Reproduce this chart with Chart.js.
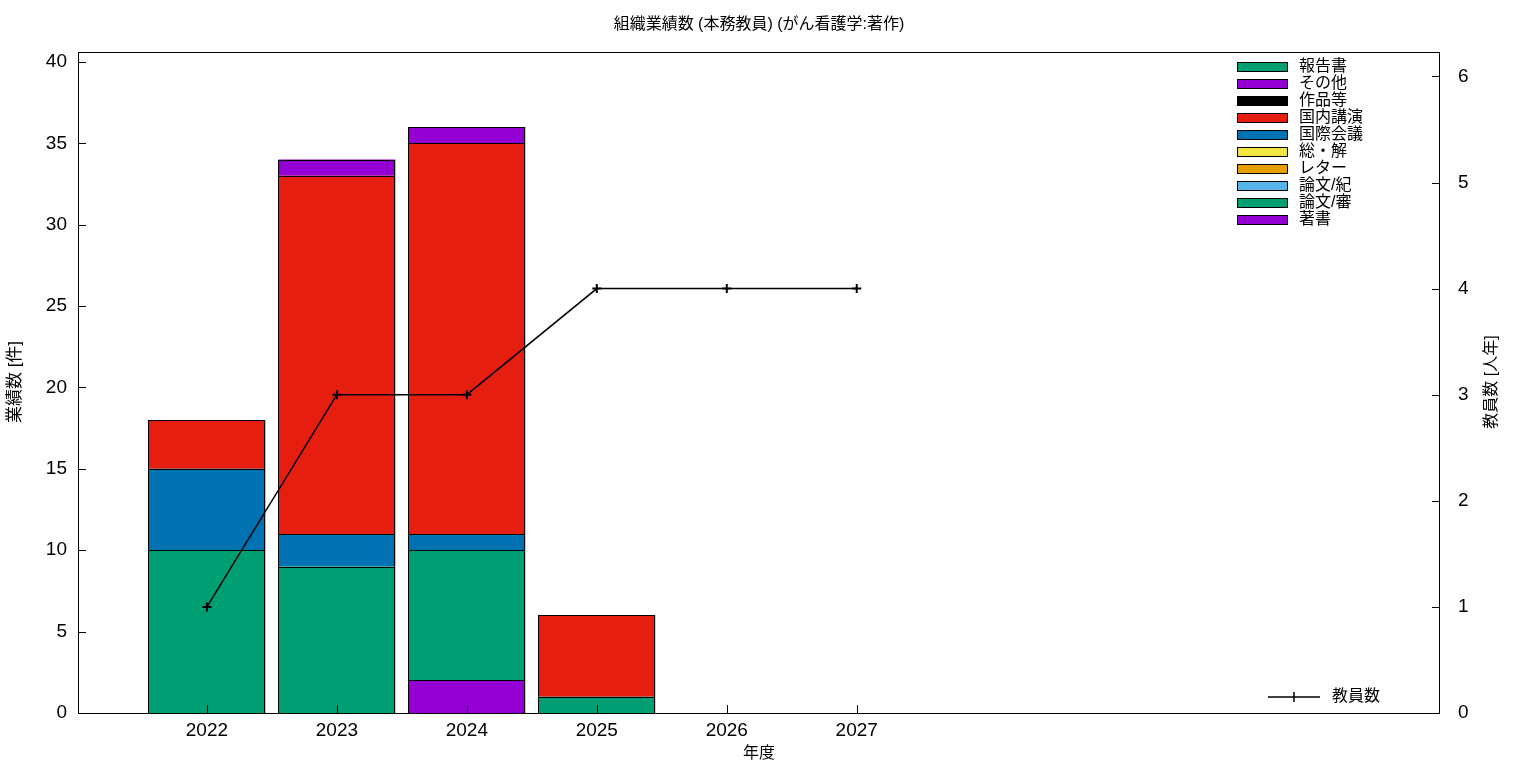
<!DOCTYPE html>
<html>
<head>
<meta charset="utf-8">
<script src="https://cdn.jsdelivr.net/npm/chart.js@4/dist/chart.umd.min.js"></script>
<style>
    body { margin: 0; background: #fff; }
    #wrap { width: 1536px; height: 768px; }
</style>
</head>
<body>
<div id="wrap"><canvas id="myChart" width="1536" height="768"></canvas></div>
<script>
// data
const years = [2022, 2023, 2024, 2025, 2026, 2027];
const staff = [1, 3, 3, 4, 4, 4];

// stacking order, bottom first
const seriesNames = ['著書', '論文/審', '論文/紀', 'レター', '総・解', '国際会議', '国内講演', '作品等', 'その他', '報告書'];
const seriesColors = ['#9400d3', '#009e73', '#56b4e9', '#e69f00', '#f0e442', '#0072b2', '#e51e10', '#000000', '#9400d3', '#009e73'];
const chosho   = [0, 0, 2, 0, 0, 0];
const ronbunS  = [10, 9, 8, 1, 0, 0];
const ronbunK  = [0, 0, 0, 0, 0, 0];
const letter   = [0, 0, 0, 0, 0, 0];
const soukai   = [0, 0, 0, 0, 0, 0];
const kokusai  = [5, 2, 1, 0, 0, 0];
const kokunai  = [3, 22, 24, 5, 0, 0];
const sakuhin  = [0, 0, 0, 0, 0, 0];
const sonota   = [0, 1, 1, 0, 0, 0];
const houkoku  = [0, 0, 0, 0, 0, 0];
const seriesValues = [chosho, ronbunS, ronbunK, letter, soukai, kokusai, kokunai, sakuhin, sonota, houkoku];

const yTicks = [0, 5, 10, 15, 20, 25, 30, 35, 40];
const y2Ticks = [0, 1, 2, 3, 4, 5, 6];

const FONT = '"Liberation Sans", "Noto Sans CJK JP", sans-serif';

const barSets = seriesNames.map((name, i) => ({
    type: 'bar',
    label: name,
    data: years.map((yr, j) => ({ x: yr, y: seriesValues[i][j] === 0 ? null : seriesValues[i][j] })),
    backgroundColor: seriesColors[i],
    borderWidth: 0,
    stack: 'works',
    yAxisID: 'y',
    order: 1,
    barPercentage: 0.9,
    categoryPercentage: 1,
}));

const lineSet = {
    type: 'line',
    label: '教員数',
    data: years.map((yr, j) => ({ x: yr, y: staff[j] })),
    borderColor: '#000',
    borderWidth: 1.5,
    pointStyle: 'cross',
    pointRadius: 4.5,
    pointBorderWidth: 2,
    pointBorderColor: '#000',
    yAxisID: 'y2',
    order: 0,
    tension: 0,
};

// frame, inward ticks, bar outlines, titles and legends like gnuplot
const gnuplotLook = {
    id: 'gnuplotLook',
    beforeDraw(chart) {
        const ctx = chart.ctx;
        ctx.save();
        ctx.fillStyle = '#fff';
        ctx.fillRect(0, 0, chart.width, chart.height);
        ctx.restore();
    },
    afterDatasetDraw(chart, args) {
        if (args.meta.type !== 'bar') return;
        const ctx = chart.ctx;
        ctx.save();
        ctx.strokeStyle = '#000';
        ctx.lineWidth = 1;
        args.meta.data.forEach((bar, j) => {
            if (seriesValues[args.index][j] === 0) return;
            const p = bar.getProps(['x', 'y', 'base', 'width'], true);
            const l = Math.round(p.x - p.width / 2) + 0.5;
            const r = Math.round(p.x + p.width / 2) - 0.5;
            const t = Math.round(p.y) + 0.5;
            const b = Math.round(p.base) + 0.5;
            ctx.strokeRect(l, t, r - l, b - t);
        });
        ctx.restore();
    },
    afterDraw(chart) {
        const ctx = chart.ctx;
        const a = chart.chartArea;
        const sx = chart.scales.x, sy = chart.scales.y, sy2 = chart.scales.y2;
        ctx.save();
        ctx.strokeStyle = '#000';
        ctx.lineWidth = 1;
        ctx.strokeRect(a.left + 0.5, a.top + 0.5, a.right - a.left - 1, a.bottom - a.top);

        ctx.beginPath();
        yTicks.forEach(v => {
            const p = Math.round(sy.getPixelForValue(v)) + 0.5;
            ctx.moveTo(a.left, p); ctx.lineTo(a.left + 8, p);
        });
        y2Ticks.forEach(v => {
            const p = Math.round(sy2.getPixelForValue(v)) + 0.5;
            ctx.moveTo(a.right, p); ctx.lineTo(a.right - 8, p);
        });
        years.forEach(v => {
            const p = Math.round(sx.getPixelForValue(v)) + 0.5;
            ctx.moveTo(p, a.bottom); ctx.lineTo(p, a.bottom - 8);
        });
        ctx.stroke();

        ctx.fillStyle = '#000';
        ctx.textAlign = 'center';
        ctx.textBaseline = 'middle';
        ctx.font = '16px ' + FONT;
        ctx.fillText('組織業績数 (本務教員) (がん看護学:著作)', (a.left + a.right) / 2, 25);
        ctx.fillText('年度', (a.left + a.right) / 2, 754);

        ctx.save();
        ctx.translate(15, 382);
        ctx.rotate(-Math.PI / 2);
        ctx.font = '17px ' + FONT;
        ctx.fillText('業績数 [件]', 0, 0);
        ctx.restore();
        ctx.save();
        ctx.translate(1492, 382);
        ctx.rotate(-Math.PI / 2);
        ctx.fillText('教員数 [人年]', 0, 0);
        ctx.restore();

        // bar legend, top right (reverse of stacking)
        ctx.textAlign = 'left';
        for (let k = 0; k < seriesNames.length; k++) {
            const i = seriesNames.length - 1 - k;
            const yc = 67 + k * 17;
            ctx.fillStyle = seriesColors[i];
            ctx.fillRect(1237, yc - 5, 50, 10);
            ctx.strokeRect(1237.5, yc - 4.5, 50, 9);
            ctx.fillStyle = '#000';
            ctx.fillText(seriesNames[i], 1299, yc);
        }

        // line legend, bottom right
        ctx.lineWidth = 1.5;
        ctx.beginPath();
        ctx.moveTo(1268, 697); ctx.lineTo(1320, 697);
        ctx.moveTo(1294, 692); ctx.lineTo(1294, 702);
        ctx.stroke();
        ctx.fillText('教員数', 1332, 697);
        ctx.restore();
    }
};

const config = {
    data: { datasets: [...barSets, lineSet] },
    options: {
        responsive: false,
        animation: false,
        layout: { padding: { top: 52, left: 0, right: 0, bottom: 0 } },
        plugins: {
            legend: { display: false },
            title: { display: false },
            tooltip: { enabled: false },
        },
        scales: {
            x: {
                type: 'linear',
                min: 2021.008,
                max: 2031.488,
                offset: false,
                grid: { display: false, drawTicks: false },
                border: { display: false },
                afterBuildTicks: s => { s.ticks = years.map(v => ({ value: v })); },
                afterFit: s => { s.height = 55; },
                ticks: {
                    color: '#000',
                    font: { family: FONT, size: 19 },
                    padding: 6,
                    maxRotation: 0,
                    callback: v => String(v),
                },
            },
            y: {
                position: 'left',
                stacked: true,
                min: 0,
                max: 40.61,
                grid: { display: false, drawTicks: false },
                border: { display: false },
                afterBuildTicks: s => { s.ticks = yTicks.map(v => ({ value: v })); },
                afterFit: s => { s.width = 78; },
                ticks: { color: '#000', font: { family: FONT, size: 19 }, padding: 11 },
            },
            y2: {
                position: 'right',
                min: 0,
                max: 6.23,
                grid: { display: false, drawTicks: false },
                border: { display: false },
                afterBuildTicks: s => { s.ticks = y2Ticks.map(v => ({ value: v })); },
                afterFit: s => { s.width = 96; },
                ticks: { color: '#000', font: { family: FONT, size: 19 }, padding: 18 },
            },
        },
    },
    plugins: [gnuplotLook],
};

const myChart = new Chart(document.getElementById('myChart'), config);
</script>
</body>
</html>
